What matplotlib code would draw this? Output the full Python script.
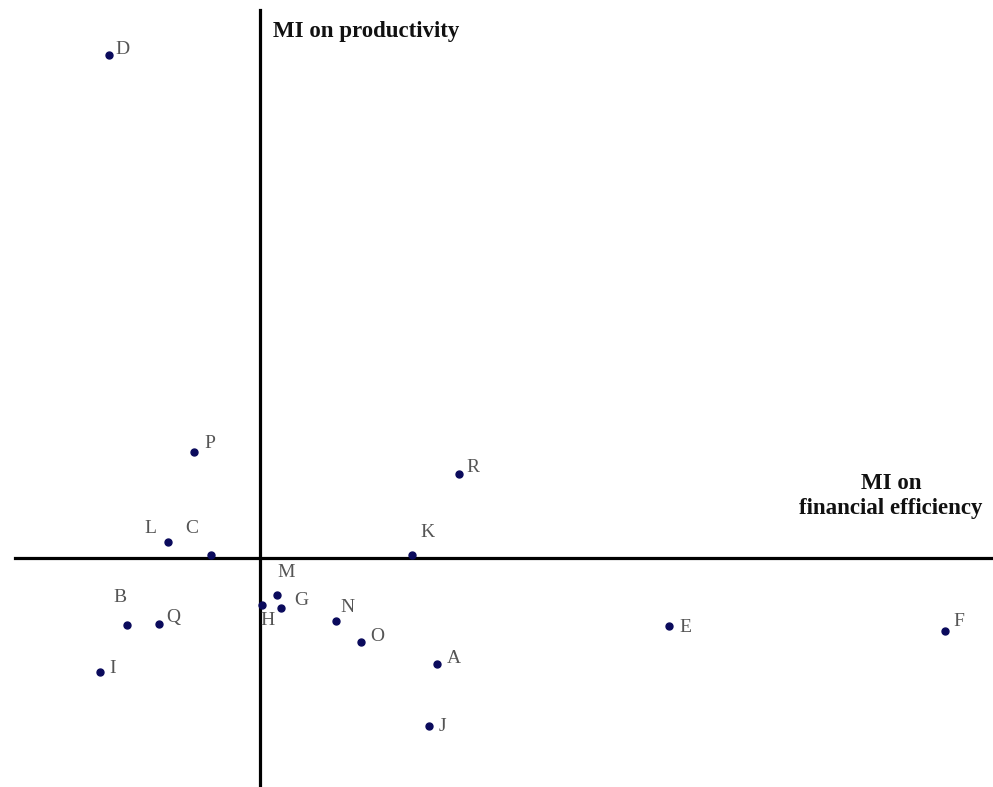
import matplotlib
matplotlib.use("Agg")
import matplotlib.pyplot as plt

# firms: MI on financial efficiency (x) vs MI on productivity (y)
names = ["A", "B", "C", "D", "E", "F", "G", "H", "I",
         "J", "K", "L", "M", "N", "O", "P", "Q", "R"]
fin_eff = [1.77, -1.33, -0.49, -1.51, 4.09, 6.85, 0.21, 0.02, -1.60,
           1.69, 1.52, -0.92, 0.17, 0.76, 1.01, -0.66, -1.01, 1.99]
prod = [-1.06, -0.67, 0.03, 5.03, -0.68, -0.73, -0.50, -0.47, -1.14,
        -1.68, 0.03, 0.16, -0.37, -0.63, -0.84, 1.06, -0.66, 0.84]

# label offsets in pixels (dx, dy) from each dot
offs = {"A": (17, 5), "B": (-7, 27), "C": (-19, 26), "D": (13, 5),
        "E": (16, -2), "F": (14, 9), "G": (20, 7), "H": (6, -16),
        "I": (13, 3), "J": (13, -1), "K": (15, 22), "L": (-18, 13),
        "M": (9, 22), "N": (11, 13), "O": (16, 5), "P": (16, 8),
        "Q": (14, 6), "R": (14, 6)}

plt.rcParams['font.family'] = ['Liberation Serif', 'DejaVu Serif']

fig = plt.figure(figsize=(9.93, 7.87), dpi=100)
ax = fig.add_axes([0, 0, 1, 1])
ax.set_xlim(-2.60, 7.33)
ax.set_ylim(-2.295, 5.575)
ax.axis('off')

# crossing axes
ax.axvline(0, ymin=0, ymax=0.987, color='black', lw=2.3)
ax.axhline(0, xmin=0.015, xmax=1, color='black', lw=2.3)

ax.plot(fin_eff, prod, 'o', color='#0a0a5c', ms=5, zorder=3)

for n, x, y in zip(names, fin_eff, prod):
    dx, dy = offs[n]
    ax.annotate(n, (x, y), xytext=(dx, dy), textcoords='offset pixels',
                ha='center', va='center', fontsize=14, color='#555555')

ax.text(0.13, 5.26, "MI on productivity", ha='left', va='center',
        fontsize=16.5, fontweight='bold', color='#111111')
ax.text(6.31, 0.615, "MI on\nfinancial efficiency", ha='center', va='center',
        fontsize=16.5, fontweight='bold', color='#111111', linespacing=1.3)

fig.savefig("out.png", dpi=100)
